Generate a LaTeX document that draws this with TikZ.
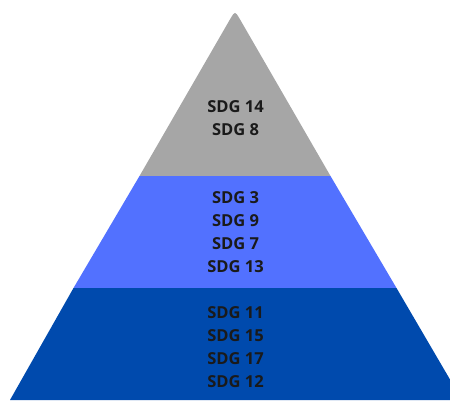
\documentclass[tikz,border=0pt]{standalone}
\usepackage{fontspec}
\setmainfont{Open Sans}
\definecolor{tiergray}{HTML}{A6A6A6}
\definecolor{tierblue}{HTML}{5271FF}
\definecolor{tiernavy}{HTML}{004AAD}
\definecolor{labelink}{HTML}{1A1A1A}
\begin{document}
\begin{tikzpicture}[x=1pt,y=-1pt,
  tierlabel/.style={font=\bfseries\fontsize{16.5}{23}\selectfont, text=labelink,
    align=center, inner sep=0pt}]
  \useasboundingbox (0,0) rectangle (450,400);
  \clip (0,0) rectangle (450,400);
  % pyramid with its apex at (235,11)
  \coordinate (apex) at (235,11);
  % top tier, rounded only at the apex
  \fill[tiergray] (139.5,176) -- (230.5,18.5)
    .. controls (235,11) .. (239.5,18.5) -- (330.5,176) -- cycle;
  % middle tier
  \fill[tierblue] (139.5,176) -- (330.5,176) -- (396.5,288) -- (73.5,288) -- cycle;
  % base tier
  \fill[tiernavy] (73.5,288) -- (396.5,288) -- (462,400) -- (10,400) -- cycle;
  % labels
  \node[tierlabel] (top) at (235.5,118.5) {SDG 14\\SDG 8};
  \node[tierlabel] (mid) at (235.5,232) {SDG 3\\SDG 9\\SDG 7\\SDG 13};
  \node[tierlabel] (base) at (235.5,347) {SDG 11\\SDG 15\\SDG 17\\SDG 12};
\end{tikzpicture}
\end{document}
